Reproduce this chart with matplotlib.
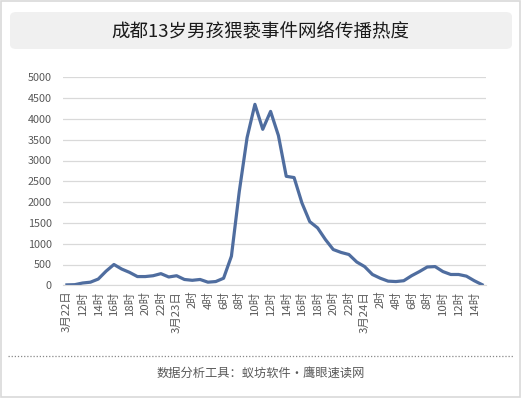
import matplotlib.pyplot as plt
from matplotlib.patches import FancyBboxPatch, Rectangle
from matplotlib.lines import Line2D

plt.rcParams['font.family'] = ['Noto Sans CJK SC', 'DejaVu Sans']

# hourly heat, 3月22日 10时 -> 3月24日 15时
heat = [10, 15, 55, 75, 150, 340, 500, 390, 310, 210,
        210, 230, 280, 200, 230, 140, 120, 140, 75, 90,
        170, 700, 2250, 3550, 4350, 3750, 4180, 3600, 2620, 2590,
        1980, 1530, 1380, 1100, 860, 790, 740, 560, 450, 260,
        170, 100, 90, 110, 230, 330, 440, 450, 330, 260,
        260, 220, 110, 15]

tick_labels = ['3月22日', '12时', '14时', '16时', '18时', '20时', '22时',
               '3月23日', '2时', '4时', '6时', '8时', '10时', '12时', '14时',
               '16时', '18时', '20时', '22时',
               '3月24日', '2时', '4时', '6时', '8时', '10时', '12时', '14时']

title = '成都13岁男孩猥亵事件网络传播热度'
footer = '数据分析工具：蚁坊软件·鹰眼速读网'

fig = plt.figure(figsize=(5.21, 3.98), dpi=100)

# outer frame
fig.patches.append(Rectangle((0.002, 0.002), 0.996, 0.995, transform=fig.transFigure,
                             fill=False, edgecolor='#d9d9d9', linewidth=1.2))
# title box
fig.patches.append(FancyBboxPatch((10 / 521, 1 - 49 / 398), 502 / 521, 37 / 398,
                                  boxstyle='round,pad=0,rounding_size=0.012',
                                  transform=fig.transFigure, facecolor='#f0f0f0',
                                  edgecolor='none'))
fig.text(0.5, 1 - 31 / 398, title, ha='center', va='center', fontsize=13.3, color='#1a1a1a')

ax = fig.add_axes([63 / 521, 1 - 285.3 / 398, 423 / 521, 208 / 398])
x = list(range(len(heat)))
ax.plot(x, heat, color='#4f6d9f', linewidth=2.3, solid_joinstyle='round')
ax.set_xlim(-0.5, len(heat) - 0.5)
ax.set_ylim(0, 5000)
ax.set_yticks(range(0, 5001, 500))
ax.set_xticks(range(0, len(heat), 2))
ax.set_xticklabels(tick_labels, rotation=90, fontsize=8.2, color='#595959')
ax.tick_params(axis='y', labelsize=7.8, colors='#595959', length=0, pad=8)
ax.tick_params(axis='x', length=0, pad=4)
ax.grid(axis='y', color='#d9d9d9', linewidth=0.9)
ax.set_axisbelow(True)
for s in ['top', 'right', 'left']:
    ax.spines[s].set_visible(False)
ax.spines['bottom'].set_color('#d9d9d9')

fig.add_artist(Line2D([8 / 521, 513 / 521], [1 - 356 / 398] * 2, transform=fig.transFigure,
                      color='#888888', linewidth=0.9, linestyle=(0, (1, 1.5))))
fig.text(0.5, 1 - 373 / 398, footer, ha='center', va='center', fontsize=8.8, color='#595959')

fig.savefig('out.png', dpi=100)
